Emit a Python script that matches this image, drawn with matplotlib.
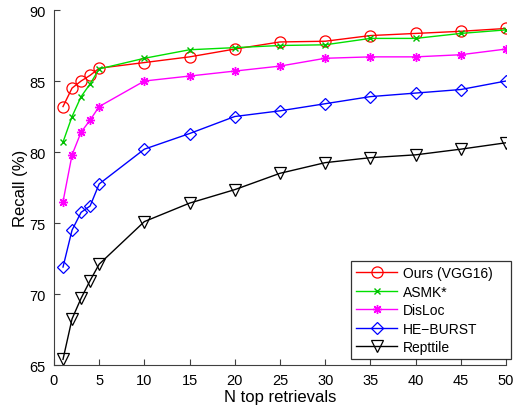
#!/usr/bin/env python3
"""Recall vs. number of top retrievals for several retrieval methods."""

import matplotlib
matplotlib.use('Agg')
import matplotlib.pyplot as plt

n_top = [1, 2, 3, 4, 5, 10, 15, 20, 25, 30, 35, 40, 45, 50]

ours_vgg16 = [83.2, 84.5, 85.0, 85.4, 85.9, 86.3, 86.7, 87.25,
              87.75, 87.8, 88.2, 88.35, 88.5, 88.7]
asmk = [80.7, 82.5, 83.9, 84.8, 85.85, 86.6, 87.2, 87.35,
        87.5, 87.55, 88.0, 88.0, 88.35, 88.6]
disloc = [76.5, 79.8, 81.4, 82.25, 83.2, 85.0, 85.35, 85.7,
          86.05, 86.6, 86.7, 86.7, 86.85, 87.25]
he_burst = [71.9, 74.5, 75.75, 76.2, 77.75, 80.2, 81.3, 82.5,
            82.9, 83.4, 83.9, 84.15, 84.4, 85.0]
repttile = [65.4, 68.25, 69.7, 70.95, 72.1, 75.1, 76.4, 77.35,
            78.5, 79.25, 79.6, 79.8, 80.2, 80.65]

labels = ['Ours (VGG16)', 'ASMK*', 'DisLoc', 'HE\u2212BURST', 'Repttile']

plt.rcParams['font.family'] = ['Liberation Sans', 'DejaVu Sans']

fig = plt.figure(figsize=(5.14, 4.06), dpi=100)
ax = fig.add_axes([0.105, 0.0985, 0.8794, 0.8744])

# matlab style asterisk (8 arms)
asterisk = (8, 2, 0)

ax.plot(n_top, ours_vgg16, '-', color='#ff0000', lw=1, marker='o',
        ms=8, mfc='none', mec='#ff0000', mew=0.9, label=labels[0])
ax.plot(n_top, asmk, '-', color='#00e000', lw=1, marker='x',
        ms=4, mec='#00c000', mew=1, label=labels[1])
ax.plot(n_top, disloc, '-', color='#ff00ff', lw=1, marker=asterisk,
        ms=6.5, mec='#ff00ff', mew=1, label=labels[2])
ax.plot(n_top, he_burst, '-', color='#0000ff', lw=1, marker='D',
        ms=6, mfc='none', mec='#0000ff', mew=0.9, label=labels[3])
ax.plot(n_top, repttile, '-', color='#000000', lw=1, marker='v',
        ms=8, mfc='none', mec='#000000', mew=0.9, label=labels[4])

ax.set_xlim(0, 50)
ax.set_ylim(65, 90)
ax.set_xticks(range(0, 51, 5))
ax.set_yticks(range(65, 91, 5))
ax.spines['top'].set_visible(False)
ax.spines['right'].set_visible(False)
for s in ('left', 'bottom'):
    ax.spines[s].set_color('#404040')
    ax.spines[s].set_linewidth(0.8)
ax.tick_params(direction='in', length=4, width=0.8, color='#404040',
               labelsize=10.5, pad=6)

ax.set_xlabel('N top retrievals', fontsize=12, labelpad=1)
ax.set_ylabel('Recall (%)', fontsize=12, labelpad=1)

leg = ax.legend(loc='lower left', bbox_to_anchor=(0.657, 0.017, 0.354, 0.2),
                mode='expand', borderaxespad=0, fancybox=False, fontsize=10,
                handlelength=3.0, labelspacing=0.32, borderpad=0.35,
                handletextpad=0.4)
leg.get_frame().set_edgecolor('black')
leg.get_frame().set_linewidth(0.9)

plt.savefig('out.png', dpi=100)
plt.close()
